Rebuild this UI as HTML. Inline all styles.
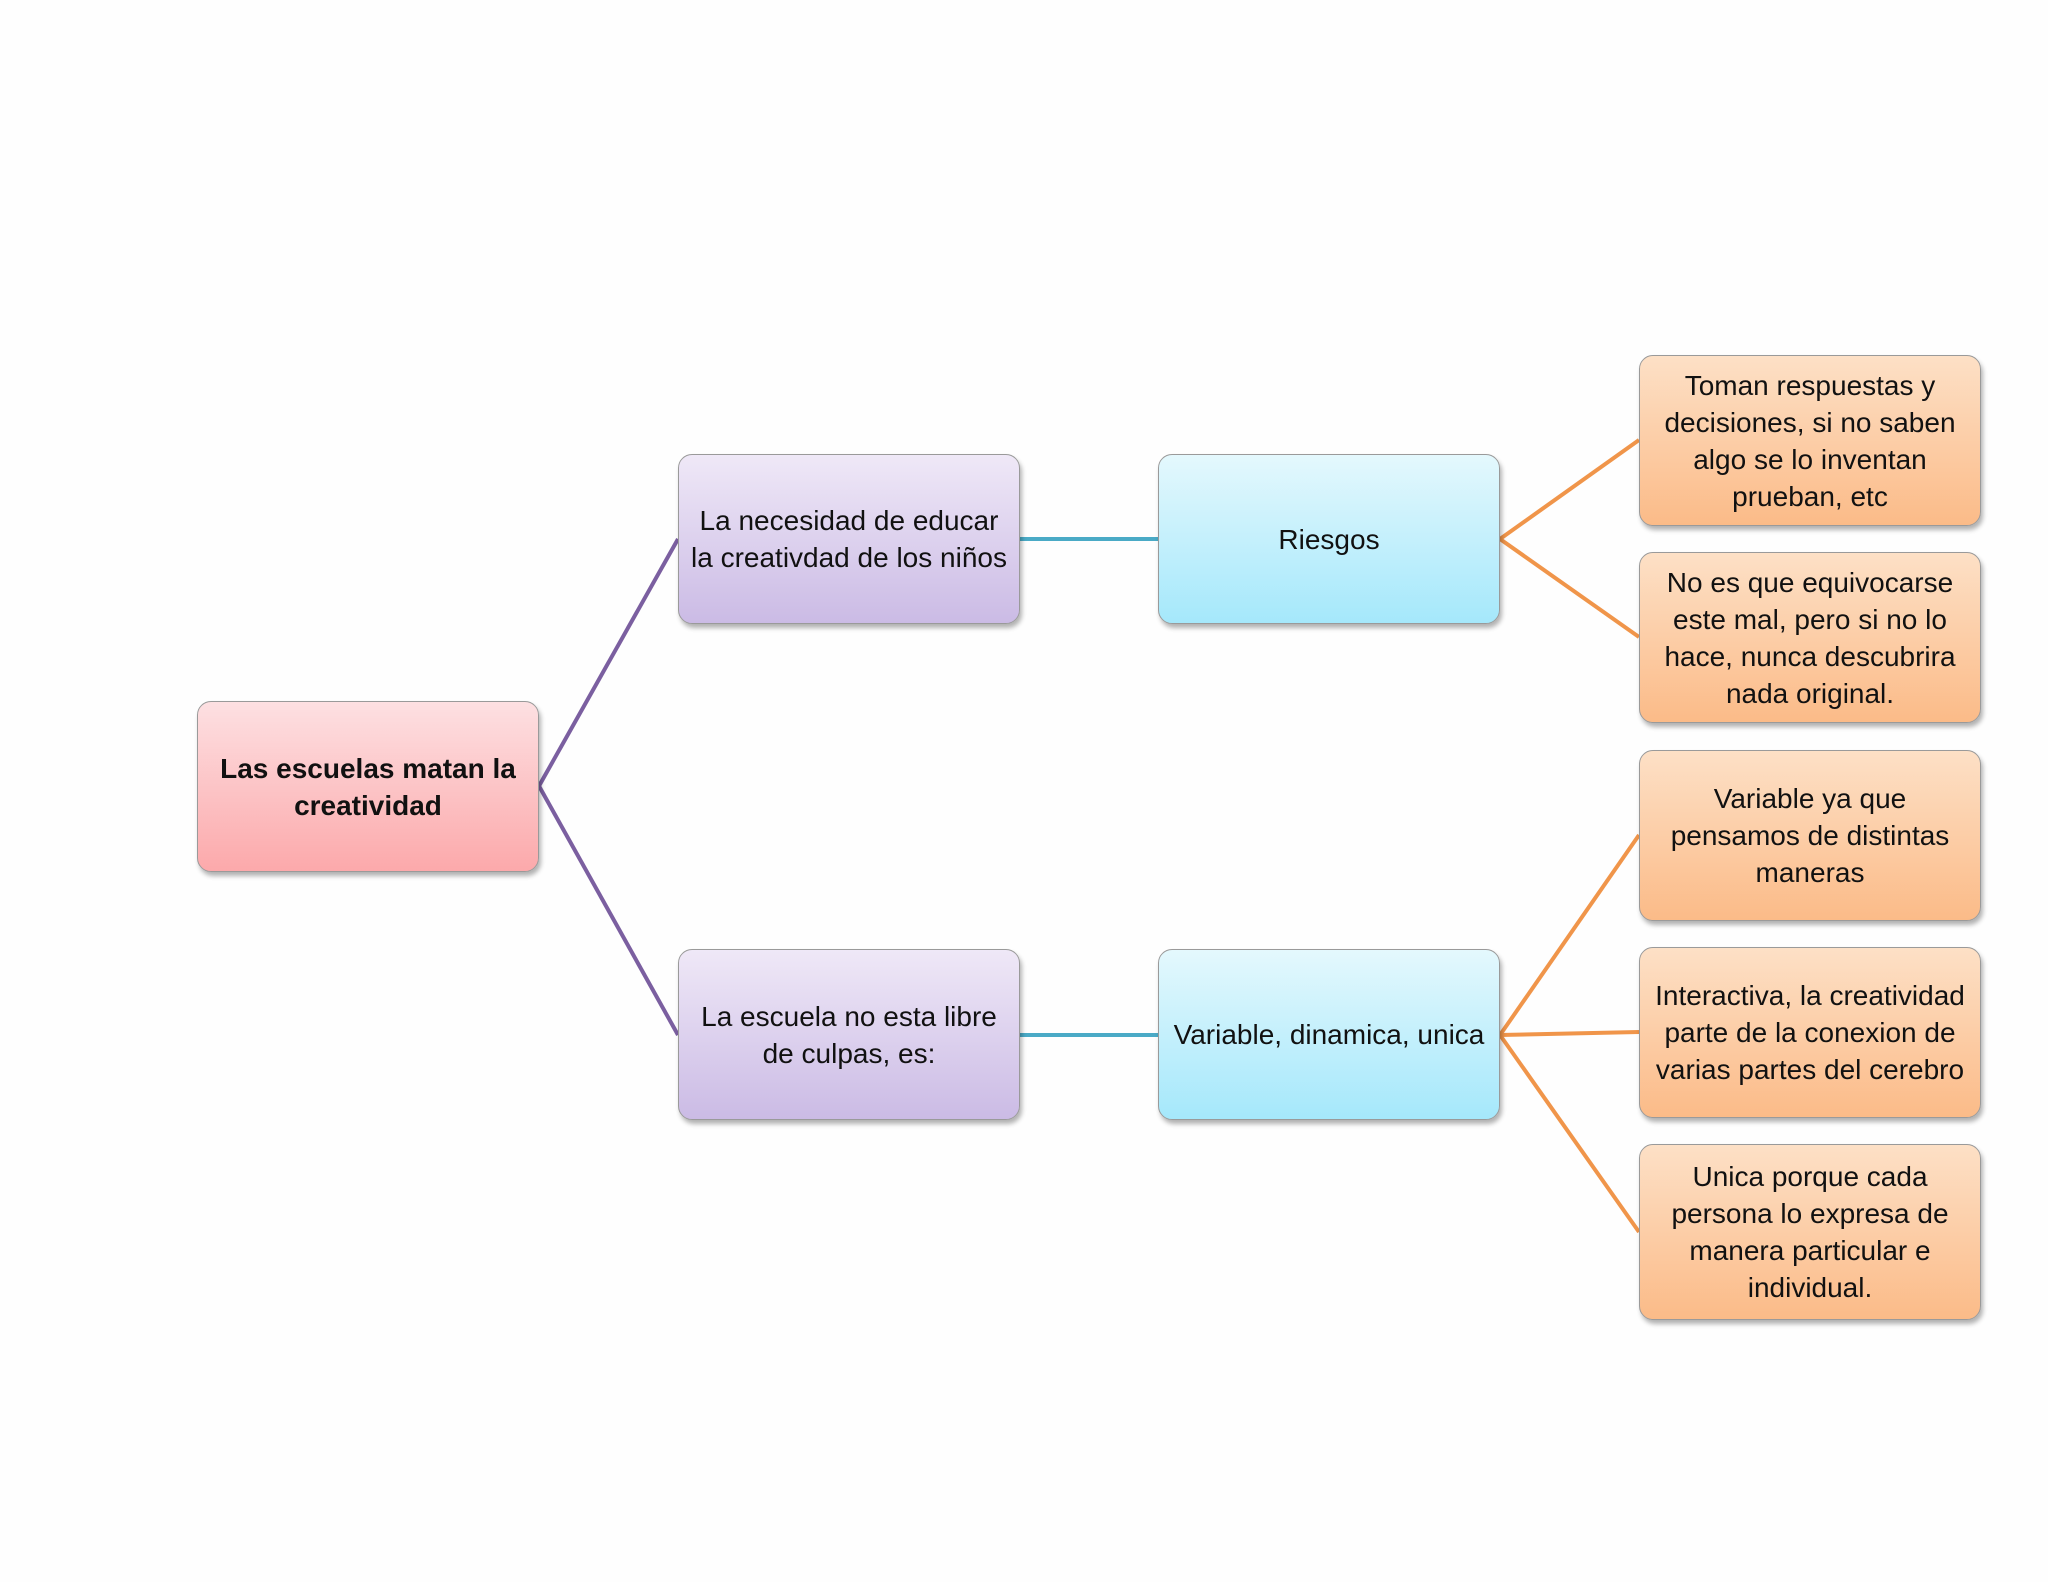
<!DOCTYPE html>
<html><head><style>
body{margin:0;width:2048px;height:1582px;background:#fefefe;position:relative;overflow:hidden;font-family:"Liberation Sans",sans-serif;}
.b{position:absolute;box-sizing:border-box;border:1.5px solid #9a9a9a;border-radius:14px;display:flex;align-items:center;justify-content:center;text-align:center;color:#111;font-size:28px;line-height:37px;box-shadow:2px 4px 5px rgba(0,0,0,0.3);padding:0 8px;}
.r{background:linear-gradient(#fde0e2,#fca9ab);font-weight:bold;}
.p{background:linear-gradient(#efe8f7,#cbbbe5);}
.c{background:linear-gradient(#e4f8fd,#a5e8fb);}
.o{background:linear-gradient(#fde0c6,#fbbb88);}
</style></head><body>
<svg width="2048" height="1582" style="position:absolute;left:0;top:0">
<g stroke="#7b5fa0" stroke-width="4" fill="none"><path d="M539 786 L678 539"/><path d="M539 786 L678 1035"/></g>
<g stroke="#4aaac6" stroke-width="4"><path d="M1020 539 L1158 539"/><path d="M1020 1035 L1158 1035"/></g>
<g stroke="#f0954a" stroke-width="4" fill="none"><path d="M1500 539 L1639 440"/><path d="M1500 539 L1639 637"/><path d="M1500 1035 L1639 835"/><path d="M1500 1035 L1639 1032"/><path d="M1500 1035 L1639 1232"/></g>
</svg>
<div class="b r" style="left:197px;top:701px;width:342px;height:171px;">Las escuelas matan la creatividad</div>
<div class="b p" style="left:678px;top:454px;width:342px;height:170px;">La necesidad de educar la creativdad de los niños</div>
<div class="b p" style="left:678px;top:949px;width:342px;height:171px;">La escuela no esta libre de culpas, es:</div>
<div class="b c" style="left:1158px;top:454px;width:342px;height:170px;">Riesgos</div>
<div class="b c" style="left:1158px;top:949px;width:342px;height:171px;">Variable, dinamica, unica</div>
<div class="b o" style="left:1639px;top:355px;width:342px;height:171px;">Toman respuestas y decisiones, si no saben algo se lo inventan prueban, etc</div>
<div class="b o" style="left:1639px;top:552px;width:342px;height:171px;">No es que equivocarse este mal, pero si no lo hace, nunca descubrira nada original.</div>
<div class="b o" style="left:1639px;top:750px;width:342px;height:171px;">Variable ya que pensamos de distintas maneras</div>
<div class="b o" style="left:1639px;top:947px;width:342px;height:171px;">Interactiva, la creatividad parte de la conexion de varias partes del cerebro</div>
<div class="b o" style="left:1639px;top:1144px;width:342px;height:176px;">Unica porque cada persona lo expresa de manera particular e individual.</div>
</body></html>
